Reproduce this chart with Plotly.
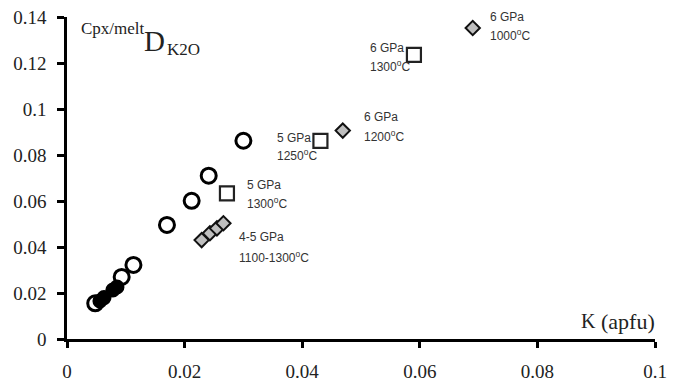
import plotly.graph_objects as go

# ---- data ----
open_circle_x = [0.0048, 0.0093, 0.0113, 0.0170, 0.0212, 0.0241, 0.0300]
open_circle_y = [0.0155, 0.0270, 0.0322, 0.0496, 0.0601, 0.0710, 0.0862]

filled_circle_x = [0.0056, 0.0063, 0.0078, 0.0085]
filled_circle_y = [0.0165, 0.0180, 0.0213, 0.0226]

open_square_x = [0.0272, 0.0431, 0.0590]
open_square_y = [0.0633, 0.0861, 0.1235]

gray_diamond_x = [0.0229, 0.0243, 0.0255, 0.0266, 0.0469, 0.0690]
gray_diamond_y = [0.0430, 0.0460, 0.0481, 0.0503, 0.0906, 0.1352]

label_line1 = ["6 GPa", "6 GPa", "6 GPa", "5 GPa", "5 GPa", "4-5 GPa"]
label_line2 = ["1000<sup>o</sup>C", "1300<sup>o</sup>C", "1200<sup>o</sup>C",
               "1250<sup>o</sup>C", "1300<sup>o</sup>C", "1100-1300<sup>o</sup>C"]
label_x = [0.0716, 0.0512, 0.0502, 0.0354, 0.0303, 0.0289]
label_y1 = [0.1400, 0.1265, 0.0965, 0.0874, 0.0670, 0.0443]
label_y2 = [0.1322, 0.1187, 0.0883, 0.0800, 0.0591, 0.0357]

x_ticks = [0, 0.02, 0.04, 0.06, 0.08, 0.1]
x_tick_text = ["0", "0.02", "0.04", "0.06", "0.08", "0.1"]
y_ticks = [0, 0.02, 0.04, 0.06, 0.08, 0.1, 0.12, 0.14]
y_tick_text = ["0", "0.02", "0.04", "0.06", "0.08", "0.1", "0.12", "0.14"]

fig = go.Figure()
fig.add_trace(go.Scatter(x=open_circle_x, y=open_circle_y, mode="markers",
                         marker=dict(symbol="circle", size=15, color="white",
                                     line=dict(color="black", width=3))))
fig.add_trace(go.Scatter(x=filled_circle_x, y=filled_circle_y, mode="markers",
                         marker=dict(symbol="circle", size=13, color="black",
                                     line=dict(color="black", width=2))))
fig.add_trace(go.Scatter(x=open_square_x, y=open_square_y, mode="markers",
                         marker=dict(symbol="square", size=14, color="white",
                                     line=dict(color="#222", width=2.2))))
fig.add_trace(go.Scatter(x=gray_diamond_x, y=gray_diamond_y, mode="markers",
                         marker=dict(symbol="diamond", size=11, color="#bfbfbf",
                                     line=dict(color="#111", width=2))))

ann = []
lab_font = dict(family="Liberation Sans, Arial", size=12, color="#333")
for t1, t2, lx, ly1, ly2 in zip(label_line1, label_line2, label_x, label_y1, label_y2):
    ann.append(dict(x=lx, y=ly1, text=t1, xref="x", yref="y", showarrow=False,
                    xanchor="left", yanchor="middle", font=lab_font))
    ann.append(dict(x=lx, y=ly2, text=t2, xref="x", yref="y", showarrow=False,
                    xanchor="left", yanchor="middle", font=lab_font))

serif = "Liberation Serif, Times New Roman, serif"
# y-axis title pieces
ann.append(dict(x=0.0020, y=0.1350, text="Cpx/melt", xref="x", yref="y", showarrow=False,
                xanchor="left", yanchor="middle", font=dict(family=serif, size=17, color="#222")))
ann.append(dict(x=0.0127, y=0.1294, text="D", xref="x", yref="y", showarrow=False,
                xanchor="left", yanchor="middle", font=dict(family=serif, size=29, color="#222")))
ann.append(dict(x=0.0166, y=0.1258, text="K2O", xref="x", yref="y", showarrow=False,
                xanchor="left", yanchor="middle", font=dict(family=serif, size=17, color="#222")))
# x-axis title pieces
ann.append(dict(x=0.0870, y=0.0078, text="K", xref="x", yref="y", showarrow=False,
                xanchor="left", yanchor="middle", font=dict(family=serif, size=20, color="#222")))
ann.append(dict(x=0.0904, y=0.0074, text="(apfu)", xref="x", yref="y", showarrow=False,
                xanchor="left", yanchor="middle", font=dict(family=serif, size=22, color="#222")))

# the page body adds an 8px margin, so margins are offset to keep the plot area in place
fig.update_layout(
    width=677, height=382,
    margin=dict(l=59, r=30, t=9, b=51),
    paper_bgcolor="white", plot_bgcolor="white",
    showlegend=False,
    annotations=ann,
    xaxis=dict(range=[0, 0.1], tickvals=x_ticks, ticktext=x_tick_text, automargin=False,
               showgrid=False, zeroline=False, showline=True, linecolor="black",
               linewidth=2.5, ticks="outside", ticklen=6, tickwidth=2.5, tickcolor="black",
               tickfont=dict(family=serif, size=19, color="#222"), ticklabelstandoff=7,
               ticklabeloverflow="allow"),
    yaxis=dict(range=[0, 0.14], tickvals=y_ticks, ticktext=y_tick_text, automargin=False,
               showgrid=False, zeroline=False, showline=True, linecolor="black",
               linewidth=2.5, ticks="outside", ticklen=7, tickwidth=2.5, tickcolor="black",
               tickfont=dict(family=serif, size=19, color="#222"), ticklabelstandoff=7,
               ticklabeloverflow="allow"),
)
fig.write_html("out.html")
